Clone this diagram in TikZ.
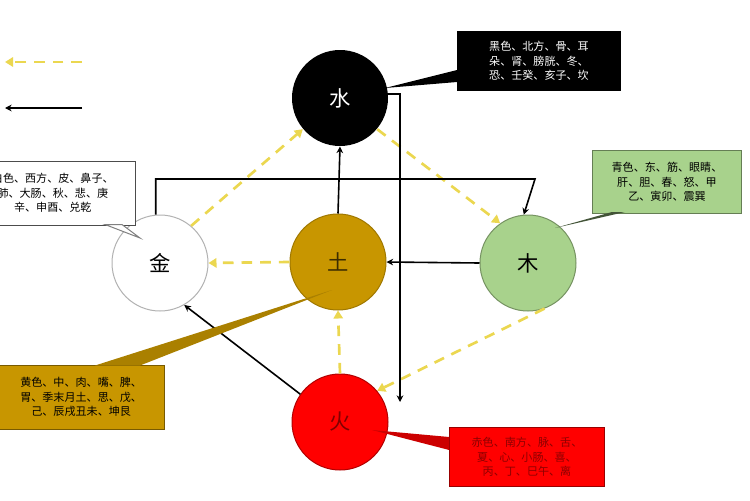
\documentclass[tikz,border=0pt]{standalone}
\usepackage{fontspec}
\setmainfont{Noto Sans CJK SC}
\usetikzlibrary{arrows.meta}
\definecolor{tuC}{RGB}{200,150,0}
\definecolor{muC}{RGB}{168,210,140}
\definecolor{dashC}{RGB}{235,215,80}
\tikzset{every picture/.style={line width=0.75pt}}
\tikzset{
  elem/.style={circle,minimum size=72,inner sep=0,font=\fontsize{16}{16}\selectfont},
  note/.style={draw=#1!60!black,inner sep=2,align=center,font=\fontsize{8.3}{10.8}\selectfont},
  sheng/.style={dashC,line width=2pt,dash pattern=on 8pt off 6pt,-{Triangle[length=6pt,width=7pt]}},
  ke/.style={black,line width=1.2pt,-{Stealth[length=5pt,width=5pt]}}
}
\begin{document}
\begin{tikzpicture}[x=0.75pt,y=0.75pt,yscale=-1,xscale=1]
\useasboundingbox (0,0) rectangle (750,500);
\clip (0,0) rectangle (750,500);

% Elements
\node[elem,fill=black,text=white] (shui) at (340,98) {水};
\node[elem,draw=gray!60,fill=white] (jin) at (160,263) {金};
\node[elem,draw=tuC!80!black,fill=tuC,text=black!70!tuC] (tu) at (338,262) {土};
\node[elem,draw=muC!70!black,fill=muC] (mu) at (528,263) {木};
\node[elem,draw=red!70!black,fill=red,text=red!50!black] (huo) at (340,422) {火};

% Legend
\coordinate (la1) at (82,62); \coordinate (la2) at (5,62);
\coordinate (lb1) at (82,108); \coordinate (lb2) at (5,108);
\draw[sheng] (la1) -- (la2);
\draw[ke] (lb1) -- (lb2);

% Generating cycle
\draw[sheng] (jin.50) -- (shui.220);
\draw[sheng] (shui.-40) -- (mu.125);
\draw[sheng] (mu.-70) -- (huo.40);
\draw[sheng] (huo.90) -- (tu.-90);
\draw[sheng] (tu.180) -- (jin.0);

% Overcoming cycle
\coordinate (huoin) at (400,402);
\draw[ke] (tu.90) -- (shui.-90);
\draw[ke] (shui.5) -| (huoin);
\draw[ke] (jin.95) |- (535,179) -- (mu.95);
\draw[ke] (mu.180) -- (tu.0);
\draw[ke] (huo.145) -- (jin.-60);

% Callouts
\node[note=black,fill=black,text=white,minimum width=122,minimum height=44] (nshui) at (539,61)
  {黑色、北方、骨、耳\\朵、肾、膀胱、冬、\\恐、壬癸、亥子、坎};
\fill[black] (385,88) -- (nshui.west |- 0,70) -- (nshui.west |- 0,82) -- cycle;

\node[note=muC,fill=muC,minimum width=112,minimum height=47] (nmu) at (667,182)
  {青色、东、筋、眼睛、\\肝、胆、春、怒、甲\\乙、寅卯、震巽};
\fill[muC!40!black] (555,228) -- (612,212) -- (625,212) -- cycle;

\node[note=gray,fill=white,minimum width=124,minimum height=48,anchor=east] (njin) at (136,193)
  {白色、西方、皮、鼻子、\\肺、大肠、秋、悲、庚\\辛、申酉、兑乾};
\filldraw[draw=gray,fill=white] (140,238) -- (105,224.5) -- (122,224.5) -- cycle;

\node[note=tuC,fill=tuC,minimum width=125,minimum height=48,anchor=east] (ntu) at (165,397)
  {黄色、中、肉、嘴、脾、\\胃、季末月土、思、戊、\\己、辰戌丑未、坤艮};
\fill[tuC!85!black] (332,290) -- (95,365.5) -- (140,365.5) -- cycle;

\node[note=red,fill=red,text=red!55!black,minimum width=116,minimum height=44] (nhuo) at (527,457)
  {赤色、南方、脉、舌、\\夏、心、小肠、喜、\\丙、丁、巳午、离};
\fill[red!80!black] (372,430) -- (nhuo.west |- 0,437) -- (nhuo.west |- 0,450) -- cycle;
\end{tikzpicture}
\end{document}
